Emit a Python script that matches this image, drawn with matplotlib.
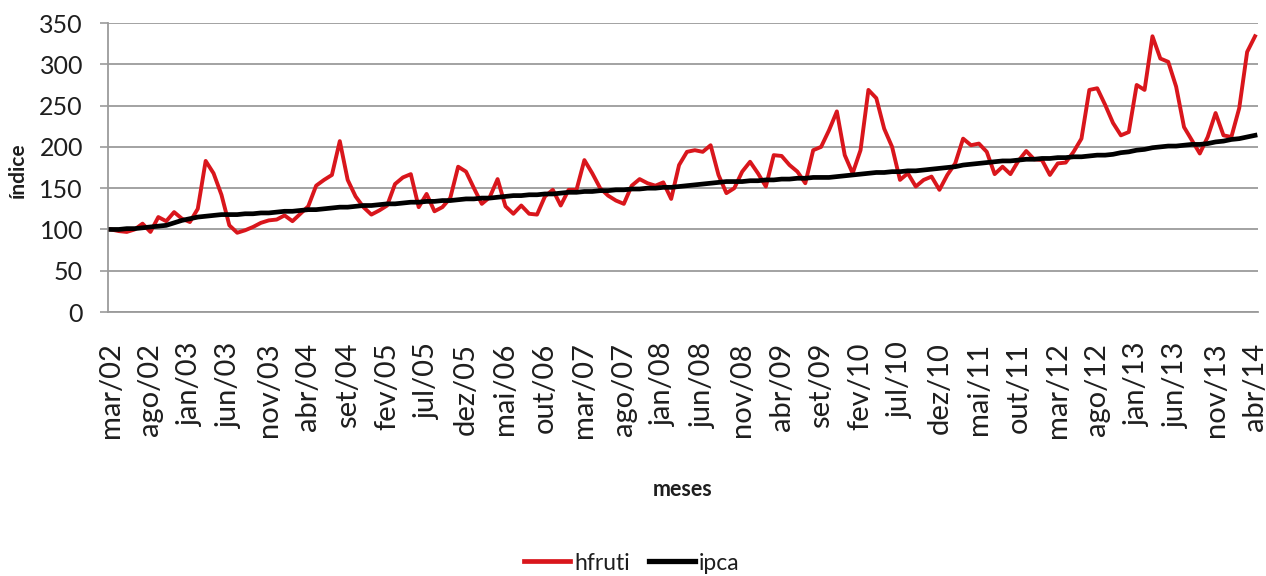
import numpy as np
import matplotlib.pyplot as plt
from matplotlib.lines import Line2D

# ---------------- dados mensais (mar/02 .. abr/14) ----------------
rotulos_x = ["mar/02", "ago/02", "jan/03", "jun/03", "nov/03", "abr/04", "set/04",
             "fev/05", "jul/05", "dez/05", "mai/06", "out/06", "mar/07", "ago/07",
             "jan/08", "jun/08", "nov/08", "abr/09", "set/09", "fev/10", "jul/10",
             "dez/10", "mai/11", "out/11", "mar/12", "ago/12", "jan/13", "jun/13",
             "nov/13", "abr/14"]

hfruti = [100, 98, 97, 100, 107, 97, 115, 110, 121, 113,
          109, 125, 183, 168, 142, 105, 96, 99, 103, 108,
          111, 112, 117, 110, 119, 128, 153, 160, 166, 207,
          160, 140, 127, 118, 123, 129, 155, 163, 167, 127,
          143, 122, 127, 138, 176, 170, 150, 131, 139, 161,
          128, 119, 129, 119, 118, 140, 148, 129, 148, 148,
          184, 168, 150, 141, 135, 131, 153, 161, 156, 153,
          157, 137, 178, 194, 196, 194, 202, 166, 144, 150,
          170, 182, 168, 152, 190, 189, 178, 170, 156, 196,
          200, 220, 243, 190, 168, 196, 269, 259, 222, 200,
          160, 168, 152, 160, 164, 148, 166, 180, 210, 202,
          204, 194, 167, 176, 167, 183, 195, 185, 184, 166,
          180, 181, 194, 210, 269, 271, 251, 229, 214, 218,
          275, 269, 334, 307, 303, 273, 224, 208, 192, 212,
          241, 214, 212, 247, 315, 334]

ipca = [100, 100, 101, 101, 102, 103, 104, 105, 108, 111,
        113, 115, 116, 117, 118, 118, 118, 119, 119, 120,
        120, 121, 122, 122, 123, 124, 124, 125, 126, 127,
        127, 128, 129, 129, 130, 131, 131, 132, 133, 133,
        134, 134, 135, 135, 136, 137, 137, 138, 138, 139,
        140, 141, 141, 142, 142, 143, 143, 144, 145, 145,
        146, 146, 147, 147, 148, 148, 149, 149, 150, 150,
        151, 151, 152, 153, 154, 155, 156, 157, 158, 158,
        158, 159, 159, 160, 160, 161, 161, 162, 162, 163,
        163, 163, 164, 165, 166, 167, 168, 169, 169, 170,
        170, 171, 171, 172, 173, 174, 175, 176, 178, 179,
        180, 181, 182, 183, 183, 184, 185, 185, 186, 186,
        187, 187, 188, 188, 189, 190, 190, 191, 193, 194,
        196, 197, 199, 200, 201, 201, 202, 203, 203, 204,
        206, 207, 209, 210, 212, 214]

meses = np.arange(len(hfruti))

# ---------------- estilo ----------------
VERMELHO = "#d9161c"
CINZA = "#9b9b9b"
TEXTO = "#1e1e1e"
plt.rcParams["font.family"] = ["Lato", "DejaVu Sans"]

fig = plt.figure(figsize=(12.66, 5.76), dpi=100)
ax = fig.add_axes([0.0853, 0.4583, 0.9084, 0.5017])

ax.plot(meses, hfruti, color=VERMELHO, lw=2.8, zorder=3)
ax.plot(meses, ipca, color="black", lw=3.4, zorder=4)

ax.set_ylim(0, 350)
ax.set_xlim(-0.38, len(meses) - 1 + 0.38)
ax.set_yticks(np.arange(0, 351, 50))
ax.set_xticks(meses[::5])
ax.set_xticklabels(rotulos_x, rotation=90, fontsize=21, color=TEXTO)
ax.tick_params(axis="y", labelsize=18, length=6, width=1.2, color=CINZA,
               pad=12, labelcolor=TEXTO)
ax.tick_params(axis="x", length=0, pad=22)

ax.grid(axis="y", color=CINZA, lw=1.3)
ax.set_axisbelow(True)
for lado in ("top", "right"):
    ax.spines[lado].set_visible(False)
for lado in ("left", "bottom"):
    ax.spines[lado].set_color(CINZA)
    ax.spines[lado].set_linewidth(1.3)

# rótulos dos eixos
fig.text(18 / 1266, 1 - 170 / 576, "índice", rotation=90, fontsize=15,
         fontweight="bold", ha="center", va="center", color=TEXTO)
fig.text(683 / 1266, 1 - 490 / 576, "meses", fontsize=15.5,
         fontweight="bold", ha="center", va="center", color=TEXTO)

# legenda
itens = [Line2D([0], [0], color=VERMELHO, lw=3.4, label="hfruti"),
         Line2D([0], [0], color="black", lw=3.8, label="ipca")]
fig.legend(handles=itens, loc="center", bbox_to_anchor=(632 / 1266, 1 - 563 / 576),
           ncol=2, frameon=False, fontsize=16.5, handlelength=2.0,
           handletextpad=0.2, columnspacing=0.8, labelcolor=TEXTO,
           borderpad=0.2)

fig.savefig("out.png", dpi=100)
